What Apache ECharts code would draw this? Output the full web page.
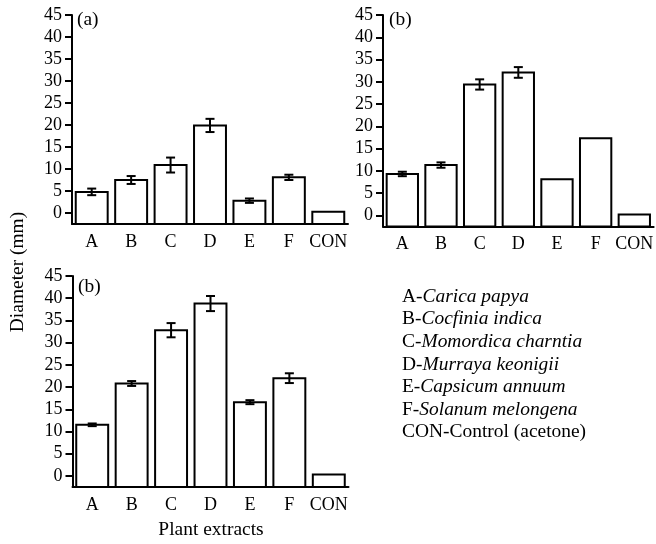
<!DOCTYPE html>
<html>
<head>
<meta charset="utf-8">
<script src="https://cdn.jsdelivr.net/npm/echarts@6/dist/echarts.min.js"></script>
<style>
  html, body { margin: 0; padding: 0; background: #fff; }
  #chart { width: 656px; height: 544px; }
</style>
</head>
<body>
<div id="chart"></div>
<script>
// data
var categories = ['A', 'B', 'C', 'D', 'E', 'F', 'CON']
var panelA = [4.8, 7.5, 10.9, 19.9, 2.8, 8.1, 0.3]
var errA = [0.75, 0.9, 1.7, 1.5, 0.5, 0.6, 0]
var panelB = [9.3, 11.3, 29.4, 32.1, 8.1, 17.3, 0.2]
var errB = [0.5, 0.6, 1.15, 1.2, 0, 0, 0]
var panelC = [11.5, 20.8, 32.8, 38.8, 16.6, 22.0, 0.3]
var errC = [0.3, 0.55, 1.6, 1.7, 0.45, 1.1, 0]
var legendItems = [
  ['A-', 'Carica papya'],
  ['B-', 'Cocfinia indica'],
  ['C-', 'Momordica charntia'],
  ['D-', 'Murraya keonigii'],
  ['E-', 'Capsicum annuum'],
  ['F-', 'Solanum melongena'],
  ['CON-Control (acetone)', '']
]

var yMin = -2.5
var yMax = 45
var font = 'Liberation Serif'

let myChart = echarts.init(document.getElementById('chart'))

function barItem (params, api) {
  var base = api.coord([api.value(0), yMin])
  var top = api.coord([api.value(0), api.value(1)])
  var w = api.size([1, 0])[0] * 0.81
  return {
    type: 'rect',
    shape: { x: top[0] - w / 2, y: top[1], width: w, height: base[1] - top[1] },
    style: { fill: '#fff', stroke: '#000', lineWidth: 2 }
  }
}

function errItem (params, api) {
  var v = api.value(1)
  var e = api.value(2)
  if (!e) return null
  var hi = api.coord([api.value(0), v + e])
  var lo = api.coord([api.value(0), v - e])
  var cap = 4.5
  var st = { stroke: '#000', lineWidth: 2 }
  return {
    type: 'group',
    children: [
      { type: 'line', shape: { x1: hi[0], y1: hi[1], x2: lo[0], y2: lo[1] }, style: st },
      { type: 'line', shape: { x1: hi[0] - cap, y1: hi[1], x2: hi[0] + cap, y2: hi[1] }, style: st },
      { type: 'line', shape: { x1: lo[0] - cap, y1: lo[1], x2: lo[0] + cap, y2: lo[1] }, style: st }
    ]
  }
}

var grids = [
  { left: 72, top: 15, width: 276, height: 209 },
  { left: 383, top: 15, width: 275, height: 211.5 },
  { left: 72.5, top: 276, width: 276, height: 211 }
]

var panels = [[panelA, errA], [panelB, errB], [panelC, errC]]

var xAxes = grids.map(function (g, i) {
  return {
    type: 'category',
    gridIndex: i,
    data: categories,
    boundaryGap: true,
    axisLine: { onZero: false, lineStyle: { color: '#000', width: 2 } },
    axisTick: { alignWithLabel: true, length: 6, lineStyle: { color: '#000', width: 2 } },
    axisLabel: { interval: 0, color: '#000', fontFamily: font, fontSize: 18, margin: 9 }
  }
})

var yAxes = grids.map(function (g, i) {
  return {
    type: 'value',
    gridIndex: i,
    min: yMin,
    max: yMax,
    splitNumber: 10,
    splitLine: { show: false },
    axisLine: { show: true, lineStyle: { color: '#000', width: 2 } },
    axisTick: { show: true, length: 7, lineStyle: { color: '#000', width: 2 } },
    axisLabel: {
      color: '#000', fontFamily: font, fontSize: 18, margin: 10, showMinLabel: false,
      formatter: function (v) { return v % 5 === 0 ? String(v) : '' }
    }
  }
})

var series = []
panels.forEach(function (p, i) {
  var vals = p[0]
  var errs = p[1]
  series.push({
    type: 'custom',
    xAxisIndex: i,
    yAxisIndex: i,
    renderItem: barItem,
    encode: { x: 0, y: 1 },
    data: categories.map(function (c, k) { return [k, vals[k]] })
  })
  series.push({
    type: 'custom',
    xAxisIndex: i,
    yAxisIndex: i,
    renderItem: errItem,
    encode: { x: 0, y: 1 },
    z: 3,
    data: categories.map(function (c, k) { return [k, vals[k], errs[k]] })
  })
})

var txt = '18px "Liberation Serif"'
var graphics = [
  { type: 'text', x: 77, y: 20, scaleX: 1.08, style: { text: '(a)', fill: '#000', font: txt, verticalAlign: 'middle' } },
  { type: 'text', x: 389, y: 20, scaleX: 1.08, style: { text: '(b)', fill: '#000', font: txt, verticalAlign: 'middle' } },
  { type: 'text', x: 78, y: 287, scaleX: 1.08, style: { text: '(b)', fill: '#000', font: txt, verticalAlign: 'middle' } },
  {
    type: 'text', x: 18, y: 272, rotation: Math.PI / 2, scaleX: 1.08,
    style: { text: 'Diameter (mm)', fill: '#000', font: txt, align: 'center', verticalAlign: 'middle' }
  },
  {
    type: 'text', x: 211, y: 530, scaleX: 1.08,
    style: { text: 'Plant extracts', fill: '#000', font: txt, align: 'center', verticalAlign: 'middle' }
  }
]
legendItems.forEach(function (it, k) {
  graphics.push({
    type: 'text',
    x: 402,
    y: 297 + k * 22.6,
    scaleX: 1.08,
    style: {
      text: '{n|' + it[0] + '}' + (it[1] ? '{i|' + it[1] + '}' : ''),
      verticalAlign: 'middle',
      rich: {
        n: { fontFamily: font, fontSize: 18, color: '#000' },
        i: { fontFamily: font, fontSize: 18, fontStyle: 'italic', color: '#000' }
      }
    }
  })
})

let option = {
  backgroundColor: '#fff',
  animation: false,
  grid: grids,
  xAxis: xAxes,
  yAxis: yAxes,
  series: series,
  graphic: graphics
}
myChart.setOption(option)
</script>
</body>
</html>
